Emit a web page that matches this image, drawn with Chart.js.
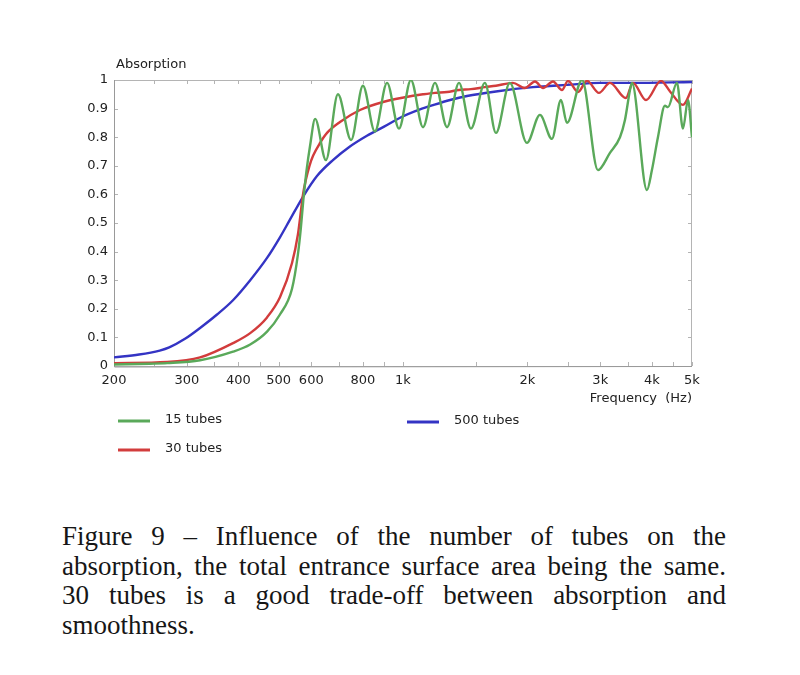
<!DOCTYPE html>
<html><head><meta charset="utf-8">
<script src="https://cdn.jsdelivr.net/npm/chart.js@4/dist/chart.umd.min.js"></script>
<style>
body{margin:0;background:#fff;width:800px;height:675px;overflow:hidden;position:relative}
#wrap{position:absolute;left:0;top:0;width:800px;height:480px}
.cl{position:absolute;left:62px;width:664px;font-family:"Liberation Serif","DejaVu Serif",serif;font-size:27px;line-height:30px;color:#161616;white-space:nowrap;transform:scaleY(1.05);transform-origin:0 24.1px}
.j{text-align:justify;text-align-last:justify}
</style></head><body>
<div id="wrap"><canvas id="c" width="800" height="480"></canvas></div>
<div class="cl j" style="top:521px">Figure 9 – Influence of the number of tubes on the</div>
<div class="cl j" style="top:550.6px">absorption, the total entrance surface area being the same.</div>
<div class="cl j" style="top:580.2px">30 tubes is a good trade-off between absorption and</div>
<div class="cl" style="top:610px">smoothness.</div>
<script>
const seriesLabels=['15 tubes','30 tubes','500 tubes'];
const seriesColors=['#5aa95a','#d23c3c','#3434c4'];

const freq15=[200,244,269,323,388,427,469,504,539,557,566,574,584,596,613,651,696,749,800,855,915,978,1045,1118,1195,1278,1366,1460,1578,1678,1813,1994,2144,2292,2410,2492,2710,2962,3166,3348,3442,3540,3578,3890,4000,4136,4300,4374,4598,4754,4890,5000];
const abs15=[0.005,0.008,0.01,0.02,0.05,0.075,0.12,0.18,0.27,0.39,0.48,0.58,0.68,0.77,0.864,0.72,0.95,0.79,0.98,0.82,0.99,0.83,1.0,0.835,0.99,0.835,0.99,0.83,0.99,0.815,0.99,0.78,0.878,0.794,0.93,0.85,1.0,0.685,0.745,0.80,0.86,0.965,0.99,0.615,0.685,0.80,0.91,0.905,0.99,0.83,0.93,0.80];

const freq30=[200,269,323,388,427,469,504,539,557,564,573,582,594,606,630,655,704,787,895,1057,1118,1195,1278,1366,1460,1578,1678,1844,1972,2086,2181,2306,2424,2506,2651,2786,2978,3166,3460,3598,3870,4206,4424,4754,5000];
const abs30=[0.01,0.014,0.03,0.08,0.115,0.17,0.24,0.36,0.46,0.52,0.6,0.65,0.70,0.735,0.78,0.815,0.853,0.895,0.923,0.945,0.95,0.955,0.958,0.965,0.968,0.975,0.98,0.99,0.972,0.995,0.972,0.995,0.965,0.997,0.958,0.997,0.955,0.99,0.937,0.99,0.93,0.997,0.96,0.913,0.97];

const freq500=[200,230,258,272,297,323,355,388,427,469,504,532,572,620,677,740,818,900,984,1099,1182,1300,1428,1678,2062,2492,2994,3578,5000];
const abs500=[0.03,0.04,0.054,0.065,0.095,0.133,0.18,0.23,0.30,0.378,0.45,0.51,0.59,0.665,0.72,0.765,0.805,0.837,0.868,0.897,0.912,0.93,0.944,0.96,0.975,0.983,0.99,0.99,0.993];

const xTickValues=[200,250,300,350,400,450,500,600,700,800,900,1000,1500,2000,2500,3000,3500,4000,4500,5000];
const xLabelValues=[200,300,400,500,600,800,1000,2000,3000,4000,5000];
const xLabelTexts=['200','300','400','500','600','800','1k','2k','3k','4k','5k'];
const yTickValues=[0,0.1,0.2,0.3,0.4,0.5,0.6,0.7,0.8,0.9,1];
const yTitle='Absorption';
const xTitle='Frequency  (Hz)';

const FONT='"DejaVu Sans", Verdana, sans-serif';
const toPts=(fs,vs)=>fs.map((f,i)=>({x:f,y:vs[i]}));

const framePlugin={
  id:'frame',
  beforeDatasetsDraw(chart){
    const {ctx,chartArea:a,scales:{x,y}}=chart;
    ctx.save();
    ctx.strokeStyle='#b4b4b4';ctx.lineWidth=1;
    ctx.strokeRect(a.left+0.5,a.top+0.5,a.right-a.left-1,a.bottom-a.top);
    ctx.beginPath();
    x.ticks.forEach(t=>{const px=Math.round(x.getPixelForValue(t.value))+0.5;
      ctx.moveTo(px,a.bottom);ctx.lineTo(px,a.bottom-4);
      ctx.moveTo(px,a.top);ctx.lineTo(px,a.top+4);});
    y.ticks.forEach(t=>{const py=Math.round(y.getPixelForValue(t.value))+0.5;
      ctx.moveTo(a.left,py);ctx.lineTo(a.left+4,py);
      ctx.moveTo(a.right,py);ctx.lineTo(a.right-4,py);});
    ctx.stroke();
    ctx.strokeStyle='#999';
    ctx.beginPath();ctx.moveTo(a.left+0.5,a.top);ctx.lineTo(a.left+0.5,a.bottom+1);
    ctx.lineTo(a.right,a.bottom+0.5);ctx.stroke();
    ctx.restore();
  },
  afterDraw(chart){
    const {ctx,chartArea:a}=chart;
    ctx.save();
    ctx.font='13px '+FONT;ctx.fillStyle='#222';ctx.textBaseline='middle';
    ctx.textAlign='left';ctx.fillText(yTitle,a.left+2,a.top-15);
    ctx.textAlign='right';ctx.fillText(xTitle,a.right,a.bottom+33);
    const pos=[[118,420],[118,449],[407,421]];
    chart.data.datasets.forEach((ds,i)=>{
      const [lx,ly]=pos[i];
      ctx.strokeStyle=ds.borderColor;ctx.lineWidth=3;
      ctx.beginPath();ctx.moveTo(lx,ly+1);ctx.lineTo(lx+32,ly+1);ctx.stroke();
      ctx.textAlign='left';ctx.fillStyle='#222';
      ctx.fillText(ds.label,lx+47,ly);
    });
    ctx.restore();
  }
};

new Chart(document.getElementById('c'),{
  type:'line',
  data:{datasets:[
    {label:seriesLabels[0],data:toPts(freq15,abs15),borderColor:seriesColors[0]},
    {label:seriesLabels[1],data:toPts(freq30,abs30),borderColor:seriesColors[1]},
    {label:seriesLabels[2],data:toPts(freq500,abs500),borderColor:seriesColors[2]}
  ]},
  options:{
    responsive:false,animation:false,devicePixelRatio:1,
    layout:{padding:{top:80,right:108,left:0,bottom:0}},
    elements:{point:{radius:0},line:{borderWidth:2.4,cubicInterpolationMode:'monotone'}},
    plugins:{legend:{display:false},tooltip:{enabled:false}},
    scales:{
      x:{type:'logarithmic',min:200,max:5000,
        afterBuildTicks:s=>{s.ticks=xTickValues.map(v=>({value:v}));},
        afterFit:s=>{s.height=114;},
        grid:{display:false,drawTicks:false},border:{display:false},
        ticks:{autoSkip:false,maxRotation:0,padding:7,color:'#222',font:{family:FONT,size:13},
          callback:v=>{const i=xLabelValues.indexOf(v);return i>=0?xLabelTexts[i]:'';}}},
      y:{min:0,max:1,
        afterBuildTicks:s=>{s.ticks=yTickValues.map(v=>({value:v}));},
        afterFit:s=>{s.width=114;},
        grid:{display:false,drawTicks:false},border:{display:false},
        ticks:{padding:6,color:'#222',font:{family:FONT,size:13},
          callback:v=>(v===0||v===1)?String(v):v.toFixed(1)}}
    }
  },
  plugins:[framePlugin]
});
</script>
</body></html>
